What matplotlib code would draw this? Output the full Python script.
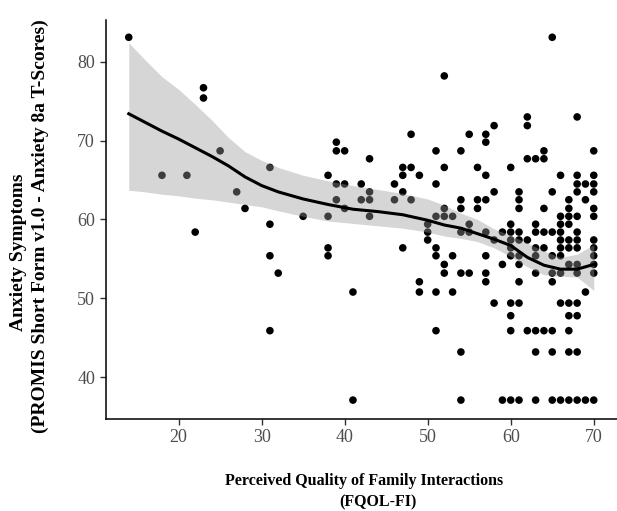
import matplotlib
matplotlib.use("Agg")
import matplotlib.pyplot as plt

# FQOL-FI score -> list of PROMIS anxiety T-scores observed at that score
X_SCORES = [14, 18, 21, 22, 23, 25, 27, 28, 31, 32, 35, 38, 39, 40, 41, 42, 43, 46, 47, 48,
            49, 50, 51, 52, 53, 54, 55, 56, 57, 58, 59, 60, 61, 62, 63, 64, 65, 66, 67, 68,
            69, 70]
T_SCORES = [
    [83.1],
    [65.6],
    [65.6],
    [58.4],
    [76.7, 75.4],
    [68.7],
    [63.5],
    [61.4],
    [66.6, 59.4, 55.4, 45.9],
    [53.2],
    [60.4],
    [65.6, 60.4, 56.4, 55.4],
    [69.8, 68.7, 64.5, 62.5],
    [68.7, 64.5, 61.4],
    [50.8, 37.1],
    [64.5, 62.5],
    [67.7, 63.5, 62.5, 60.4],
    [64.5, 62.5],
    [66.6, 65.6, 63.5, 56.4],
    [70.8, 66.6, 62.5],
    [65.6, 52.1, 50.8],
    [59.4, 58.4, 57.4],
    [68.7, 64.5, 60.4, 56.4, 55.4, 50.8, 45.9],
    [78.2, 66.6, 61.4, 60.4, 54.3, 53.2],
    [60.4, 55.4, 50.8],
    [68.7, 62.5, 61.4, 58.4, 53.2, 43.2, 37.1],
    [70.8, 59.4, 58.4, 53.2],
    [66.6, 62.5, 61.4],
    [70.8, 69.8, 65.6, 62.5, 58.4, 55.4, 53.2, 52.1],
    [71.9, 63.5, 57.4, 49.4],
    [58.4, 54.3, 37.1],
    [66.6, 59.4, 58.4, 57.4, 56.4, 55.4, 49.4, 47.8, 45.9, 37.1],
    [63.5, 62.5, 61.4, 58.4, 57.4, 55.4, 54.3, 52.1, 49.4, 37.1],
    [73.0, 71.9, 67.7, 57.4, 45.9],
    [67.7, 59.4, 58.4, 56.4, 55.4, 53.2, 45.9, 43.2, 37.1],
    [68.7, 67.7, 61.4, 58.4, 56.4, 45.9],
    [83.1, 63.5, 58.4, 55.4, 53.2, 52.1, 45.9, 43.2, 37.1],
    [65.6, 60.4, 59.4, 58.4, 57.4, 56.4, 55.4, 53.2, 49.4, 37.1],
    [62.5, 61.4, 60.4, 59.4, 57.4, 56.4, 54.3, 49.4, 47.8, 45.9, 43.2, 37.1],
    [73.0, 65.6, 64.5, 63.5, 60.4, 58.4, 57.4, 56.4, 54.3, 53.2, 49.4, 47.8, 43.2, 37.1],
    [64.5, 62.5, 50.8, 37.1],
    [68.7, 65.6, 64.5, 63.5, 61.4, 60.4, 57.4, 56.4, 55.4, 54.3, 53.2, 37.1],
]

# loess smooth and its 95% band
FIT_X = [14, 16, 18, 20, 22, 24, 26, 28, 30, 32, 35, 38, 41, 44, 47, 50, 52, 54, 56, 58,
         60, 62, 64, 66, 68, 70]
FIT_Y = [73.4, 72.3, 71.2, 70.2, 69.1, 68.0, 66.8, 65.4, 64.3, 63.5, 62.6, 61.9, 61.3, 61.0,
         60.6, 59.9, 59.3, 58.9, 58.2, 57.5, 56.7, 55.2, 54.2, 53.7, 53.7, 54.3]
FIT_HI = [82.4, 80.2, 78.1, 76.5, 74.6, 72.6, 70.4, 68.6, 67.5, 66.6, 65.6, 64.9, 64.3, 63.8,
          63.3, 62.6, 61.8, 60.8, 60.0, 58.8, 58.0, 57.0, 56.0, 55.2, 55.6, 56.8]
FIT_LO = [63.7, 63.5, 63.2, 63.0, 62.7, 62.5, 62.2, 61.9, 61.6, 61.1, 60.4, 59.8, 59.5, 59.2,
          58.9, 58.4, 57.9, 57.6, 57.2, 56.4, 55.3, 54.0, 53.0, 52.8, 52.7, 51.0]

X_TICKS = [20, 30, 40, 50, 60, 70]
Y_TICKS = [40, 50, 60, 70, 80]

plt.rcParams["font.family"] = ["Liberation Serif", "DejaVu Serif"]

px, py = [], []
for xv, ys in zip(X_SCORES, T_SCORES):
    for yv in ys:
        px.append(xv)
        py.append(yv)

fig = plt.figure(figsize=(6.17, 5.11), dpi=100)
ax = fig.add_axes([0.171, 0.180, 0.829, 0.781])

ax.scatter(px, py, s=30, color="black", edgecolors="none", zorder=2)
ax.fill_between(FIT_X, FIT_LO, FIT_HI, color="#999999", alpha=0.4, linewidth=0, zorder=3)
ax.plot(FIT_X, FIT_Y, color="black", lw=2.2, zorder=4)

ax.set_xlim(11.2, 72.8)
ax.set_ylim(34.7, 85.3)
ax.set_xticks(X_TICKS)
ax.set_yticks(Y_TICKS)
ax.tick_params(labelsize=13, colors="#333333", length=4, width=1, labelcolor="#4d4d4d")
ax.spines[["top", "right"]].set_visible(False)
for s in ("left", "bottom"):
    ax.spines[s].set_linewidth(1.1)

fig.text(0.590, 1 - 481 / 511, "Perceived Quality of Family Interactions",
         ha="center", va="center", fontsize=11.5, weight="bold")
fig.text(0.612, 1 - 502 / 511, "(FQOL-FI)", ha="center", va="center", fontsize=11.5, weight="bold")
fig.text(19 / 617, 1 - 252 / 511, "Anxiety Symptoms", rotation=90,
         ha="center", va="center", fontsize=14, weight="bold")
fig.text(40 / 617, 1 - 226 / 511, "(PROMIS Short Form v1.0 - Anxiety 8a T-Scores)", rotation=90,
         ha="center", va="center", fontsize=14, weight="bold")

fig.savefig("out.png", dpi=100)
